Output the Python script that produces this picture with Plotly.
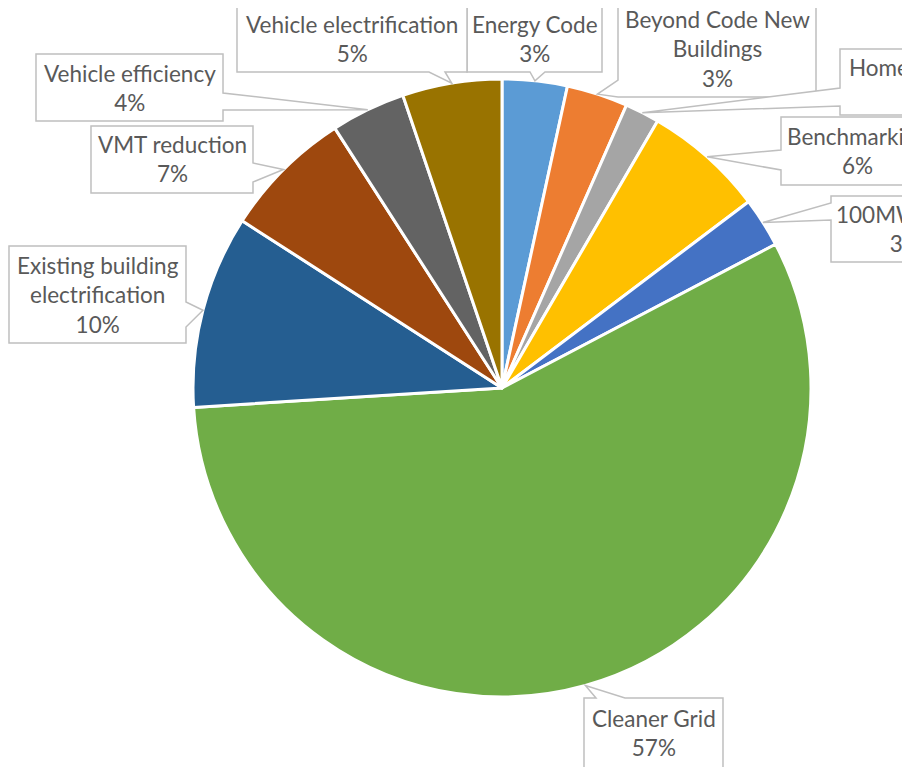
import math
import plotly.graph_objects as go

# ---------------- data ----------------
categories = ["Energy Code", "Beyond Code New Buildings", "Home Energy Score",
              "Benchmarking", "100MW Solar", "Cleaner Grid",
              "Existing building electrification", "VMT reduction",
              "Vehicle efficiency", "Vehicle electrification"]
label_text = ["Energy Code", "Beyond Code New<br>Buildings", "Home Energy Score",
              "Benchmarking", "100MW Solar", "Cleaner Grid",
              "Existing building<br>electrification", "VMT reduction",
              "Vehicle efficiency", "Vehicle electrification"]
values = [3.4, 3.2, 1.8, 6.3, 2.6, 56.7, 10.1, 6.8, 3.9, 5.2]
colors = ["#5B9BD5", "#ED7D31", "#A5A5A5", "#FFC000", "#4472C4",
          "#70AD47", "#255E91", "#9E480E", "#636363", "#997300"]

# ---------------- layout constants (page pixels) ----------------
OFF = 8                      # page body margin
W, H = 915 - OFF, 767 - OFF
CX, CY, R = 502, 388, 309
# callout boxes: left, top, right, bottom, wedge side, wedge base start, end
boxes = [
    (467, 5, 602, 72, "bottom", 530, 545),
    (618, 0, 816, 97, "left", 80, 97),
    (840, 49, 1052, 115, "left", 88, 106),
    (781, 117, 933, 185, "left", 150, 170),
    (831, 196, 980, 262, "left", 203, 220),
    (584, 698, 723, 768, "top", 596, 625),
    (9, 246, 186, 343, "right", 302, 327),
    (91, 126, 253, 193, "right", 163, 182),
    (36, 54, 223, 121, "right", 93, 110),
    (237, 5, 467, 72, "bottom", 429, 445),
]

def px(x):
    return (x - OFF) / W

def py(y):
    return 1 - (y - OFF) / H

fig = go.Figure(go.Pie(
    labels=categories, values=values, sort=False, direction="clockwise",
    rotation=0, textinfo="none", hoverinfo="label+percent",
    marker=dict(colors=colors, line=dict(color="white", width=3)),
    domain=dict(x=[px(CX - R), px(CX + R)], y=[py(CY + R), py(CY - R)]),
    showlegend=False,
))

total = sum(values)
cum = 0.0
shapes = []
annotations = []
for i, v in enumerate(values):
    mid = (cum + v / 2) / total * 2 * math.pi
    cum += v
    tx = CX + R * math.sin(mid)
    ty = CY - R * math.cos(mid)
    l, t, r, b, side, a0, a1 = boxes[i]
    pts = [(l, t)]
    if side == "top":
        pts += [(a0, t), (tx, ty), (a1, t)]
    pts.append((r, t))
    if side == "right":
        pts += [(r, a0), (tx, ty), (r, a1)]
    pts.append((r, b))
    if side == "bottom":
        pts += [(a1, b), (tx, ty), (a0, b)]
    pts.append((l, b))
    if side == "left":
        pts += [(l, a1), (tx, ty), (l, a0)]
    path = "M " + " L ".join(f"{px(x):.5f},{py(y):.5f}" for x, y in pts) + " Z"
    shapes.append(dict(type="path", xref="paper", yref="paper", path=path,
                       fillcolor="white", line=dict(color="#BFBFBF", width=1.5),
                       layer="above"))
    pct = f"{round(v / total * 100)}%"
    annotations.append(dict(
        x=px((l + r) / 2), y=py((t + b) / 2), xref="paper", yref="paper",
        xanchor="center", yanchor="middle", showarrow=False,
        text=f"{label_text[i]}<br>{pct}",
        font=dict(family="Lato", size=22.5, color="#595959"), align="center"))

# white strip at the right edge (chart was cropped there)
annotations.append(dict(x=px(902), y=0.5, xref="paper", yref="paper",
                        xanchor="left", yanchor="middle", showarrow=False,
                        text=" ", width=40, height=H + 20, bgcolor="white",
                        borderwidth=0, borderpad=0))

fig.update_layout(
    width=W, height=H, margin=dict(l=0, r=0, t=0, b=0),
    paper_bgcolor="white", plot_bgcolor="white",
    shapes=shapes, annotations=annotations,
)
fig.write_html("out.html")
